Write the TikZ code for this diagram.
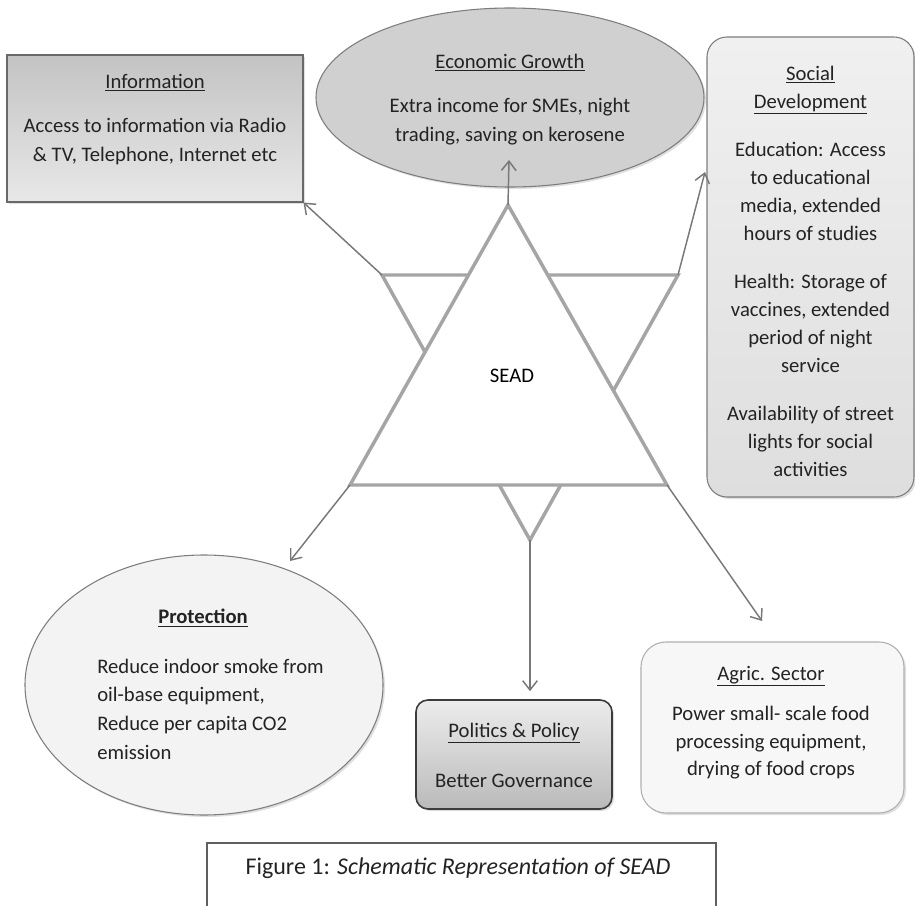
\documentclass[tikz,border=0pt]{standalone}
\usepackage{fontspec}
\setmainfont{Carlito}
\usetikzlibrary{arrows.meta,shapes.geometric,shadows}

\begin{document}
\begin{tikzpicture}[x=0.75pt,y=0.75pt,yscale=-1,xscale=1,
  box/.style={draw={rgb,255:red,125;green,125;blue,125},line width=0.8pt,inner sep=0pt},
  txt/.style={align=center,inner sep=0pt,font=\fontsize{15.5}{21.5}\selectfont,text={rgb,255:red,35;green,35;blue,35}},
  arr/.style={draw={rgb,255:red,120;green,120;blue,120},line width=1.1pt,-{Straight Barb[length=7pt,width=11pt]}},
  tri/.style={draw={rgb,255:red,165;green,165;blue,165},line width=2.6pt},
  shade/.style={drop shadow={opacity=0.25,shadow xshift=1.5pt,shadow yshift=-1.5pt}}
]
\useasboundingbox (0,0) rectangle (915,906);

%Shape: Ellipse [Economic Growth]
\node[box,ellipse,shade,minimum width=291pt,minimum height=134.25pt,fill={rgb,255:red,208;green,208;blue,208}] (eco) at (510,97.5) {};
% Text Node
\node[txt] (ecotxt) at (510,99.5) {\underline{Economic Growth}\\[12pt]Extra income for SMEs, night\\trading, saving on kerosene};

%Shape: Rounded Rect [Social Development]
\node[box,rectangle,shade,rounded corners=15pt,minimum width=155.25pt,minimum height=345pt,top color={rgb,255:red,240;green,240;blue,240},bottom color={rgb,255:red,222;green,222;blue,222}] (social) at (810.5,267) {};
% Text Node
\node[txt,font=\fontsize{15.5}{21}\selectfont] (soctxt) at (810.5,271) {\underline{Social}\\\underline{Development}\\[15pt]Education: Access\\to educational\\media, extended\\hours of studies\\[15pt]Health: Storage of\\vaccines, extended\\period of night\\service\\[15pt]Availability of street\\lights for social\\activities};

%Shape: Rectangle [Information]
\node[box,rectangle,shade,draw={rgb,255:red,105;green,105;blue,105},minimum width=222pt,minimum height=110.25pt,top color={rgb,255:red,195;green,195;blue,195},bottom color={rgb,255:red,232;green,232;blue,232}] (info) at (155,128.5) {};
% Text Node
\node[txt] (infotxt) at (155,119.5) {\underline{Information}\\[12pt]Access to information via Radio\\\& TV, Telephone, Internet etc};

%Shape: Ellipse [Protection]
\node[box,ellipse,shade,minimum width=268.5pt,minimum height=195pt,fill={rgb,255:red,243;green,243;blue,243}] (protect) at (204,685) {};
% Text Node
\node[txt] (protitle) at (203,618) {\underline{\textbf{Protection}}};
% Text Node
\node[txt,align=left,anchor=west] (protxt) at (97,709) {Reduce indoor smoke from\\oil-base equipment,\\Reduce per capita CO2\\emission};

%Shape: Rounded Rect [Politics & Policy]
\node[box,rectangle,shade,rounded corners=9pt,draw={rgb,255:red,60;green,60;blue,60},line width=1.2pt,minimum width=147pt,minimum height=81.75pt,top color={rgb,255:red,236;green,236;blue,236},bottom color={rgb,255:red,186;green,186;blue,186}] (politics) at (514,754.5) {};
% Text Node
\node[txt] (poltxt) at (514,755) {\underline{Politics \& Policy}\\[16pt]Better Governance};

%Shape: Rounded Rect [Agric. Sector]
\node[box,rectangle,shade,rounded corners=18.75pt,draw={rgb,255:red,175;green,175;blue,175},minimum width=197.25pt,minimum height=128.25pt,fill={rgb,255:red,247;green,247;blue,247}] (agric) at (772.5,727.5) {};
% Text Node
\node[txt,font=\fontsize{15.5}{20.5}\selectfont] (agrtxt) at (771,722.5) {\underline{Agric. Sector}\\[10pt]Power small- scale food\\processing equipment,\\drying of food crops};

%Shape: Triangles [SEAD star]
\coordinate (D1) at (382,275);
\coordinate (D2) at (678,275);
\coordinate (D3) at (530,540);
\coordinate (U1) at (508,205);
\coordinate (U2) at (350,485);
\coordinate (U3) at (667,485);
\draw[tri] (D1) -- (D2) -- (D3) -- cycle;
\draw[tri,fill=white] (U1) -- (U2) -- (U3) -- cycle;
% Text Node
\node[txt,text=black] (sead) at (512,376) {SEAD};

%Straight Lines [arrows]
\coordinate (ecoin) at (509,160);
\coordinate (socin) at (705,172);
\coordinate (proin) at (290,561);
\coordinate (agrin) at (762,621);
\draw[arr] (D1) -- (info.south east);
\draw[arr] (U1) -- (ecoin);
\draw[arr] (D2) -- (socin);
\draw[arr] (U2) -- (proin);
\draw[arr,shorten >=6pt] (D3) -- (D3 |- politics.north);
\draw[arr] (U3) -- (agrin);

%Shape: Caption frame
\draw[draw={rgb,255:red,95;green,95;blue,95},line width=2pt] (207,906) -- (207,843) -- (716,843) -- (716,906);
% Text Node
\node[txt,font=\fontsize{18}{22}\selectfont] (caption) at (458,868) {Figure 1: \textit{Schematic Representation of SEAD}};

\end{tikzpicture}
\end{document}
